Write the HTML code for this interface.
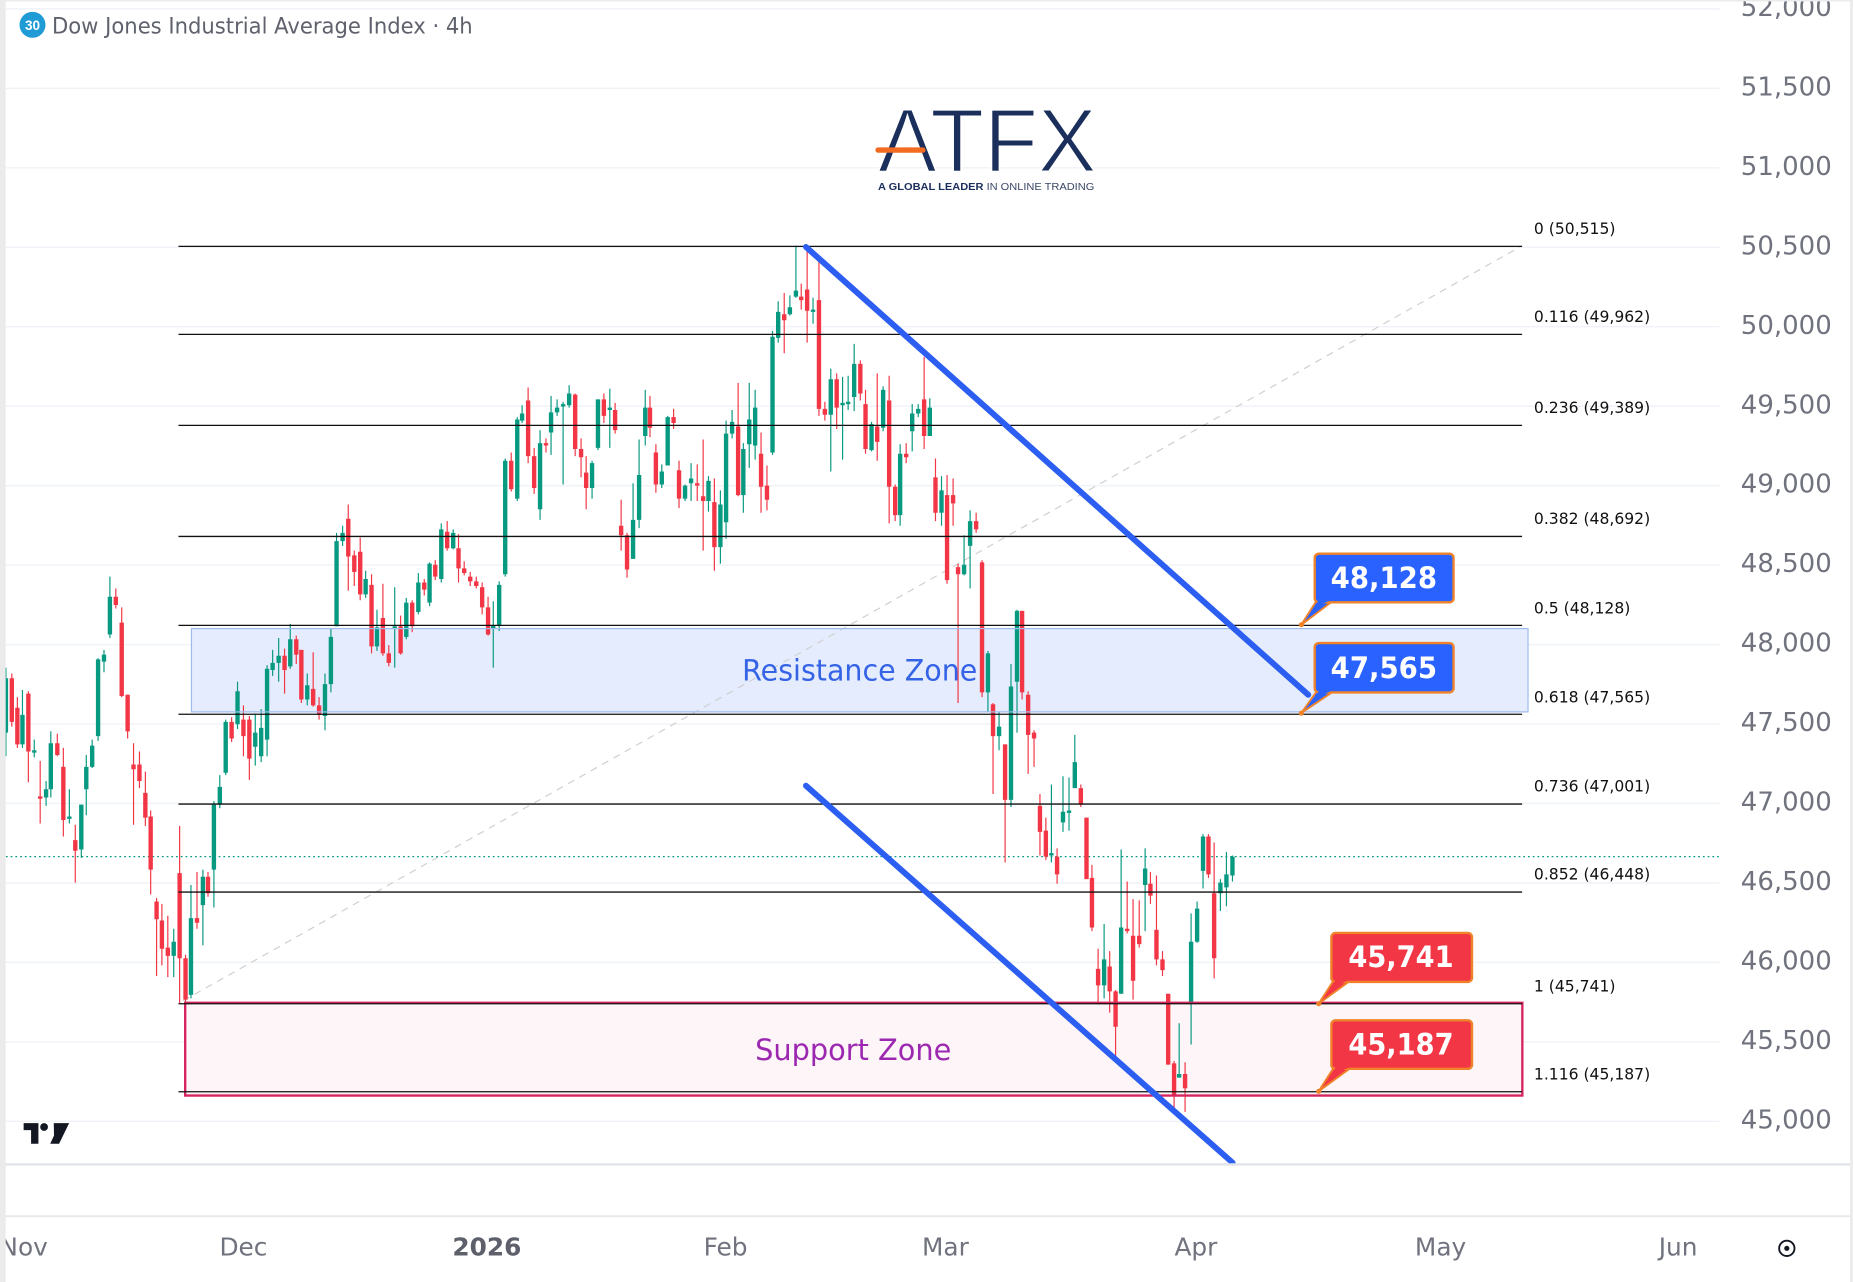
<!DOCTYPE html>
<html>
<head>
<meta charset="utf-8">
<style>
html,body{margin:0;padding:0;background:#fff;overflow:hidden;}
svg{display:block;}
</style>
</head>
<body>
<svg width="1853" height="1282" viewBox="0 0 1568 1085" preserveAspectRatio="none" xmlns="http://www.w3.org/2000/svg">
<rect x="0" y="0" width="1568" height="1085" fill="#ffffff"/>

<!-- horizontal gridlines -->
<g stroke="#eff2f7" stroke-width="1.2">
<line x1="5" y1="7.5" x2="1455" y2="7.5"/>
<line x1="5" y1="74.8" x2="1455" y2="74.8"/>
<line x1="5" y1="142" x2="1455" y2="142"/>
<line x1="5" y1="209.3" x2="1455" y2="209.3"/>
<line x1="5" y1="276.5" x2="1455" y2="276.5"/>
<line x1="5" y1="343.8" x2="1455" y2="343.8"/>
<line x1="5" y1="411" x2="1455" y2="411"/>
<line x1="5" y1="478.3" x2="1455" y2="478.3"/>
<line x1="5" y1="545.5" x2="1455" y2="545.5"/>
<line x1="5" y1="612.8" x2="1455" y2="612.8"/>
<line x1="5" y1="680" x2="1455" y2="680"/>
<line x1="5" y1="747.3" x2="1455" y2="747.3"/>
<line x1="5" y1="814.5" x2="1455" y2="814.5"/>
<line x1="5" y1="881.8" x2="1455" y2="881.8"/>
<line x1="5" y1="949" x2="1455" y2="949"/>
</g>

<!-- price axis labels -->
<g font-family="'DejaVu Sans','Liberation Sans',sans-serif" font-size="22" fill="#70737e" text-anchor="end">
<text x="1550" y="13.5">52,000</text>
<text x="1550" y="80.8">51,500</text>
<text x="1550" y="148">51,000</text>
<text x="1550" y="215.3">50,500</text>
<text x="1550" y="282.5">50,000</text>
<text x="1550" y="349.8">49,500</text>
<text x="1550" y="417">49,000</text>
<text x="1550" y="484.3">48,500</text>
<text x="1550" y="551.5">48,000</text>
<text x="1550" y="618.8">47,500</text>
<text x="1550" y="686">47,000</text>
<text x="1550" y="753.3">46,500</text>
<text x="1550" y="820.5">46,000</text>
<text x="1550" y="887.8">45,500</text>
<text x="1550" y="955">45,000</text>
</g>

<!-- Zones fills (behind candles) -->
<rect x="162" y="532" width="1131" height="70.5" fill="#e4ecfd"/>
<rect x="156.7" y="848.7" width="1131.5" height="78.5" fill="#fdf5f7"/>

<!-- dashed fib trend line -->
<line x1="155" y1="847" x2="1288" y2="208" stroke="#cfcfcf" stroke-width="1" stroke-dasharray="6,5"/>

<!-- current price dotted line -->
<line x1="5" y1="725" x2="1455" y2="725" stroke="#089981" stroke-width="1" stroke-dasharray="1.5,2.5"/>

<!-- candles -->
<path fill="none" stroke="#089981" stroke-width="1" d="M5 565V640 M19 584V633 M29 626V641 M39 661V682 M43 619V675 M58.7 668V697 M68.8 681V726 M73 639V690 M78 626V650 M83 557V627 M88 550V569 M93 488V540 M147 786V827 M161.6 749V845 M171.7 736V800 M181 678V768 M186 656V684 M191 609V656 M201 577V617 M216 604V648 M221 600V645 M226 563V640 M230.7 550V572 M235.8 540V577 M245.6 528V566 M260 570V597 M275 570V618 M280 532V586 M284.8 451V530 M289.9 445V462 M309.4 483V506 M319 516V551 M334 497V565 M343.8 506V541 M354 485V520 M363.5 476V513 M373.4 443V493 M383.5 448V465 M417.4 509V565 M422.4 492V534 M427.5 388V488 M437.7 353V424 M441.8 343V358 M457 364V440 M466.3 335V385 M471.4 338V352 M476.5 340V410 M481.6 326V345 M501 390V422 M506 338V381 M516 329V379 M535.7 409V473 M540.8 372V447 M546 330V377 M560 393V413 M565 352V394 M579.7 410V424 M584.8 392V424 M599.5 403V433 M609.6 415V477 M614.4 356V456 M619.5 347V371 M629 375V434 M634 324V396 M639 330V389 M653.7 280V385 M658.5 255V290 M668.4 250V267 M673.5 208V252 M688 252V274 M703 312V399 M713 319V389 M717.7 318V347 M722.8 291V348 M737.5 357V382 M747.3 327V365 M761.7 376V445 M771.9 342V382 M777 342V353 M786.8 337V369 M796.7 403V445 M815.8 453V487 M820.9 432V498 M836 551V603 M845.4 603V635 M855.5 562V683 M860.6 516V620 M889.7 664V730 M899.5 657V704 M904.6 658V703 M909.5 622V667 M934.3 782V845 M948.7 719V841 M969 718V788 M997.8 866V912 M1007.9 773V884 M1013 763V798 M1018 706V752 M1032.7 744V771 M1037.8 721V767 M1042.9 724V746"/>
<path fill="none" stroke="#089981" stroke-width="3.7" d="M5 574V620 M19 605V630 M29 635V637 M39 668V675 M43 629V668 M58.7 691V693 M68.8 681V719 M73 649V668 M78 631V649 M83 558V623 M88 554V560 M93 505V537 M147 797V809 M161.6 777V842 M171.7 742V766 M181 681V736 M186 666V681 M191 611V654 M201 585V613 M216 620V632 M221 616V640 M226 566V626 M230.7 561V567 M235.8 555V561 M245.6 541V564 M260 580V592 M275 579V606 M280 539V579 M284.8 458V530 M289.9 451V458 M309.4 490V503 M319 531V547 M334 530V532 M343.8 510V539 M354 493V518 M363.5 477V510 M373.4 448V490 M383.5 451V464 M417.4 529V532 M422.4 495V529 M427.5 390V486 M437.7 355V422 M441.8 350V356 M457 375V431 M466.3 349V366 M471.4 345V349 M476.5 342V344 M481.6 333V343 M501 392V413 M506 338V379 M516 345V347 M535.7 440V473 M540.8 402V440 M546 345V369 M560 399V410 M565 353V394 M579.7 411V422 M584.8 405V409 M599.5 407V424 M609.6 427V463 M614.4 367V442 M619.5 357V367 M629 380V419 M634 355V376 M639 345V377 M653.7 285V383 M658.5 264V286 M668.4 260V266 M673.5 246V251 M688 262V264 M703 321V351 M713 341V343 M717.7 340V342 M722.8 308V336 M737.5 359V381 M747.3 330V362 M761.7 384V436 M771.9 350V365 M777 346V350 M786.8 345V369 M796.7 415V434 M815.8 478V486 M820.9 441V462 M836 553V586 M845.4 615V623 M855.5 581V677 M860.6 517V577 M889.7 722V724 M899.5 687V696 M904.6 686V688 M909.5 645V667 M934.3 812V834 M948.7 785V841 M969 735V749 M997.8 909V912 M1007.9 797V849 M1013 769V797 M1018 708V737 M1032.7 747V756 M1037.8 740V751 M1042.9 725V741"/>
<path fill="none" stroke="#f23645" stroke-width="1" d="M10 570V615 M14.7 590V633 M24 585V662 M34 644V697 M48.5 621V640 M53.6 633V708 M63.7 698V747 M98 498V515 M103 514V590 M108 588V625 M113 629V698 M118 636V667 M123 653V699 M127.5 686V757 M132.5 760V826 M137 765V817 M142 775V827 M152 699V849 M157 808V848 M166.7 738V786 M176 738V759 M196 607V628 M206 597V640 M211 606V660 M240.8 549V587 M250.7 538V562 M255 550V595 M265 552V598 M270 590V609 M294.7 427V500 M299.8 466V496 M304.8 455V508 M314.4 486V553 M324 494V555 M329 546V564 M339 521V554 M348.8 508V535 M359 490V504 M368.3 474V491 M378.4 441V466 M388 452V493 M392.8 475V487 M397.9 484V496 M403 488V498 M408 493V520 M413 505V538 M432.6 383V416 M446.9 328V392 M452 379V418 M462 371V383 M486.7 333V386 M491.7 371V404 M496 386V431 M511 333V358 M520.5 341V367 M525.6 423V466 M530.6 451V489 M550 335V370 M555 376V417 M570 346V363 M574.6 390V430 M590 393V424 M595 372V466 M604.5 405V483 M624.6 324V420 M644 366V434 M649 394V432 M663.6 248V299 M678 240V262 M683 209V290 M693 218V352 M698 340V356 M708 316V363 M728 305V339 M732.4 330V384 M742.3 316V390 M752.4 318V443 M757.5 410V441 M766.8 375V392 M782 302V380 M791.6 388V441 M801.4 402V494 M806.5 405V445 M810.7 477V595 M826 434V451 M831 474V590 M840.3 595V672 M850.5 630V730 M864.9 517V592 M870 585V655 M875 618V649 M880 672V724 M885 692V728 M894.5 718V748 M914.6 664V683 M919.4 692V744 M924 732V788 M929.2 803V850 M939 805V857 M944 838V897 M953.8 746V790 M958.8 761V846 M964 762V802 M973.5 738V765 M978.6 741V817 M983.7 805V826 M988.5 841V901 M993.5 898V940 M1002.8 899V941 M1022.6 706V743 M1027.4 713V828"/>
<path fill="none" stroke="#f23645" stroke-width="3.7" d="M10 574V611 M14.7 599V630 M24 587V636 M34 674V676 M48.5 629V639 M53.6 649V694 M63.7 711V720 M98 505V512 M103 527V589 M108 588V619 M113 647V651 M118 647V661 M123 671V692 M127.5 691V736 M132.5 763V778 M137 779V803 M142 802V809 M152 739V811 M157 811V846 M166.7 777V781 M176 742V756 M196 611V625 M206 609V623 M211 609V642 M240.8 555V567 M250.7 541V554 M255 550V592 M265 583V597 M270 597V605 M294.7 439V471 M299.8 470V484 M304.8 467V503 M314.4 495V547 M324 523V553 M329 553V561 M339 530V553 M348.8 510V530 M359 493V499 M368.3 478V488 M378.4 450V464 M388 464V481 M392.8 481V485 M397.9 488V492 M403 492V496 M408 497V514 M413 514V537 M432.6 390V414 M446.9 339V386 M452 386V413 M462 375V377 M486.7 334V380 M491.7 380V387 M496 400V413 M511 338V352 M520.5 347V364 M525.6 445V453 M530.6 453V482 M550 345V362 M555 383V410 M570 353V358 M574.6 398V422 M590 409V411 M595 420V424 M604.5 425V463 M624.6 361V419 M644 384V412 M649 411V423 M663.6 266V271 M678 251V254 M683 245V263 M693 254V346 M698 346V351 M708 321V345 M728 308V333 M732.4 342V380 M742.3 361V374 M752.4 339V412 M757.5 412V436 M766.8 384V387 M782 338V369 M791.6 404V434 M801.4 419V491 M806.5 419V426 M810.7 480V486 M826 441V448 M831 476V586 M840.3 596V623 M850.5 630V677 M864.9 517V586 M870 588V622 M875 620V625 M880 682V704 M885 703V725 M894.5 725V740 M914.6 667V681 M919.4 692V744 M924 743V785 M929.2 820V834 M939 818V839 M944 839V869 M953.8 786V788 M958.8 792V830 M964 792V799 M973.5 748V758 M978.6 787V812 M983.7 812V821 M988.5 841V901 M993.5 900V928 M1002.8 909V921 M1022.6 708V740 M1027.4 756V811"/>

<!-- zone outlines -->
<rect x="162" y="532" width="1131" height="70.5" fill="none" stroke="#9dbcee" stroke-width="1"/>
<rect x="156.7" y="848.7" width="1131.5" height="78.5" fill="none" stroke="#d6245f" stroke-width="2"/>

<!-- fib lines -->
<g stroke="#111" stroke-width="1.1">
<line x1="151" y1="208.5" x2="1288" y2="208.5"/>
<line x1="151" y1="283" x2="1288" y2="283"/>
<line x1="151" y1="360" x2="1288" y2="360"/>
<line x1="151" y1="454" x2="1288" y2="454"/>
<line x1="151" y1="529.3" x2="1288" y2="529.3"/>
<line x1="151" y1="604.5" x2="1288" y2="604.5"/>
<line x1="151" y1="680.5" x2="1288" y2="680.5"/>
<line x1="151" y1="755" x2="1288" y2="755"/>
<line x1="151" y1="849.5" x2="1288" y2="849.5"/>
<line x1="151" y1="924" x2="1288" y2="924"/>
</g>
<g font-family="'DejaVu Sans','Liberation Sans',sans-serif" font-size="13.2" fill="#111">
<text x="1298" y="198">0 (50,515)</text>
<text x="1298" y="272.5">0.116 (49,962)</text>
<text x="1298" y="349.5">0.236 (49,389)</text>
<text x="1298" y="443.5">0.382 (48,692)</text>
<text x="1298" y="519.3">0.5 (48,128)</text>
<text x="1298" y="594.5">0.618 (47,565)</text>
<text x="1298" y="670">0.736 (47,001)</text>
<text x="1298" y="744.5">0.852 (46,448)</text>
<text x="1298" y="839">1 (45,741)</text>
<text x="1298" y="913.5">1.116 (45,187)</text>
</g>

<!-- zone labels -->
<text x="727.5" y="576" font-family="'DejaVu Sans','Liberation Sans',sans-serif" font-size="25" fill="#3563e6" text-anchor="middle" textLength="199" lengthAdjust="spacingAndGlyphs">Resistance Zone</text>
<text x="722" y="897" font-family="'DejaVu Sans','Liberation Sans',sans-serif" font-size="25" fill="#9c27b0" text-anchor="middle" textLength="166" lengthAdjust="spacingAndGlyphs">Support Zone</text>

<!-- blue trend lines -->
<line x1="682" y1="209" x2="1107" y2="588" stroke="#2c5ef2" stroke-width="5" stroke-linecap="round"/>
<line x1="682" y1="665" x2="1043" y2="984" stroke="#2c5ef2" stroke-width="5" stroke-linecap="round"/>

<!-- callouts -->
<g stroke="#f0832a" stroke-width="1.6" stroke-linejoin="round">
<polygon points="1115,507 1130,507 1101.2,528.7" fill="#2962ff"/>
<polygon points="1115,584 1130,584 1101.2,603.4" fill="#2962ff"/>
<polygon points="1129,829 1144,829 1115.9,849.4" fill="#f23645"/>
<polygon points="1129,903 1144,903 1115.9,923.5" fill="#f23645"/>
</g>
<g stroke="#f0832a" stroke-width="2">
<rect x="1112.5" y="468.6" width="117.5" height="41.2" rx="3.5" fill="#2962ff"/>
<rect x="1112.5" y="544.2" width="117.5" height="41.8" rx="3.5" fill="#2962ff"/>
<rect x="1126.6" y="789.6" width="119" height="41.4" rx="3.5" fill="#f23645"/>
<rect x="1126.6" y="863.5" width="119" height="41.1" rx="3.5" fill="#f23645"/>
</g>
<g fill="#2962ff">
<polygon points="1116.5,507 1128.5,507 1112,514"/>
<polygon points="1116.5,584 1128.5,584 1112,591"/>
</g>
<g fill="#f23645">
<polygon points="1130.5,829 1142.5,829 1126,836"/>
<polygon points="1130.5,903 1142.5,903 1126,910"/>
</g>
<g fill="#f0832a">
<circle cx="1101.2" cy="528.7" r="2.2"/>
<circle cx="1101.2" cy="603.6" r="2.2"/>
<circle cx="1115.9" cy="849.4" r="2.2"/>
<circle cx="1115.9" cy="923.6" r="2.2"/>
</g>
<g font-family="'DejaVu Sans','Liberation Sans',sans-serif" font-weight="bold" font-size="25" fill="#ffffff" text-anchor="middle">
<text x="1171" y="497.7" textLength="90" lengthAdjust="spacingAndGlyphs">48,128</text>
<text x="1171" y="573.8" textLength="90" lengthAdjust="spacingAndGlyphs">47,565</text>
<text x="1185.5" y="818.6" textLength="89" lengthAdjust="spacingAndGlyphs">45,741</text>
<text x="1185.5" y="892.5" textLength="89" lengthAdjust="spacingAndGlyphs">45,187</text>
</g>

<!-- ATFX logo -->
<text x="743" y="145" font-family="'Liberation Sans',sans-serif" font-size="76" fill="#1b2f5c" stroke="#ffffff" stroke-width="1.6" textLength="185" lengthAdjust="spacingAndGlyphs">ATFX</text>
<line x1="743" y1="127" x2="781" y2="127" stroke="#f26b21" stroke-width="4.5" stroke-linecap="round"/>
<text x="743" y="160.7" font-family="'Liberation Sans',sans-serif" font-size="8.2" fill="#1b2f5c" textLength="183" lengthAdjust="spacingAndGlyphs"><tspan font-weight="bold">A GLOBAL LEADER</tspan><tspan fill="#3a4767"> IN ONLINE TRADING</tspan></text>

<!-- title -->
<circle cx="27.5" cy="21" r="11" fill="#1f9bd6"/>
<text x="27.5" y="25.3" font-family="'Liberation Sans',sans-serif" font-weight="bold" font-size="11.5" fill="#ffffff" text-anchor="middle">30</text>
<text x="44" y="28.5" font-family="'DejaVu Sans','Liberation Sans',sans-serif" font-size="19" fill="#5f626d" textLength="356" lengthAdjust="spacingAndGlyphs">Dow Jones Industrial Average Index · 4h</text>

<!-- TV logo -->
<g fill="#131722">
<path d="M20 950.5h12.5v17.5h-6.2v-11.5h-6.3z"/>
<circle cx="37.3" cy="953.8" r="3.3"/>
<path d="M45.5 950.5h13l-8.5 17.5h-7.5l3.2-7z"/>
</g>

<!-- bottom / axis lines -->
<line x1="4" y1="985.5" x2="1566" y2="985.5" stroke="#e1e3ea" stroke-width="2"/>
<line x1="4" y1="1029.3" x2="1566" y2="1029.3" stroke="#e6e8ee" stroke-width="1.5"/>

<!-- time labels -->
<g font-family="'DejaVu Sans','Liberation Sans',sans-serif" font-size="21" fill="#70737e" text-anchor="middle">
<text x="20" y="1062.5">Nov</text>
<text x="206" y="1062.5">Dec</text>
<text x="412" y="1062.5" font-weight="bold" fill="#5d606b">2026</text>
<text x="614" y="1062.5">Feb</text>
<text x="800" y="1062.5">Mar</text>
<text x="1012" y="1062.5">Apr</text>
<text x="1219" y="1062.5">May</text>
<text x="1420" y="1062.5">Jun</text>
</g>

<!-- settings icon -->
<circle cx="1512" cy="1056.5" r="6.5" fill="none" stroke="#131722" stroke-width="1.6"/>
<circle cx="1512" cy="1056.5" r="2.2" fill="#131722"/>

<!-- borders -->
<rect x="0" y="0" width="4.8" height="1085" fill="#ebebeb"/>
<rect x="0" y="0" width="1568" height="1.2" fill="#ebebeb"/>
<rect x="1565.5" y="0" width="2.5" height="1085" fill="#ececec"/>
</svg>
</body>
</html>
